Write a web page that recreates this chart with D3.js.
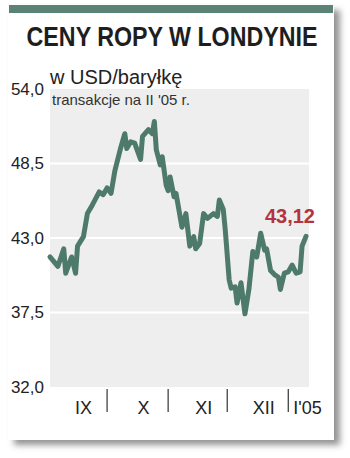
<!DOCTYPE html>
<html>
<head>
<meta charset="utf-8">
<script src="https://cdn.jsdelivr.net/npm/d3@7"></script>
<style>
  body { margin: 0; background: #fff; }
  text { font-family: "Liberation Sans", Arial, Helvetica, sans-serif; }
</style>
</head>
<body>
<div id="chart"></div>
<script>
// ceny ropy Brent, kontrakty na II '05
var dates = ["2004-09-02", "2004-09-06", "2004-09-09", "2004-09-10", "2004-09-13", "2004-09-15",
  "2004-09-16", "2004-09-19", "2004-09-21", "2004-09-23", "2004-09-27", "2004-09-29",
  "2004-10-01", "2004-10-03", "2004-10-05", "2004-10-08", "2004-10-10", "2004-10-11",
  "2004-10-13", "2004-10-15", "2004-10-18", "2004-10-19", "2004-10-22", "2004-10-24",
  "2004-10-25", "2004-10-26", "2004-10-28", "2004-10-29", "2004-10-31", "2004-11-01",
  "2004-11-02", "2004-11-04", "2004-11-05", "2004-11-08", "2004-11-10", "2004-11-12",
  "2004-11-14", "2004-11-15", "2004-11-17", "2004-11-19", "2004-11-21", "2004-11-24",
  "2004-11-26", "2004-11-27", "2004-11-29", "2004-11-30", "2004-12-02", "2004-12-03",
  "2004-12-05", "2004-12-06", "2004-12-08", "2004-12-10", "2004-12-12", "2004-12-14",
  "2004-12-16", "2004-12-18", "2004-12-20", "2004-12-21", "2004-12-23", "2004-12-25",
  "2004-12-27", "2004-12-28", "2004-12-30", "2005-01-01", "2005-01-03", "2005-01-05",
  "2005-01-07", "2005-01-08", "2005-01-10"];
var prices = [41.6, 40.9, 42.2, 40.4, 41.6, 40.4,
  42.4, 43.1, 44.8, 45.3, 46.4, 46.2,
  46.7, 46.3, 48.0, 49.7, 50.7, 49.6,
  50.1, 50.0, 48.8, 50.5, 51.0, 50.7,
  51.6, 49.5, 48.4, 49.0, 46.9, 46.5,
  47.5, 46.05, 46.3, 43.8, 44.8, 42.4,
  43.1, 42.2, 42.6, 44.8, 44.45, 44.8,
  44.6, 45.8, 45.1, 43.6, 39.9, 39.3,
  39.4, 38.2, 39.7, 37.4, 39.2, 42.0,
  41.6, 43.35, 42.1, 42.2, 40.6, 40.3,
  40.1, 39.2, 40.4, 40.5, 41.0, 40.4,
  40.5, 42.4, 43.12];

var yTicks = [32.0, 37.5, 43.0, 48.5, 54.0];
var months = ["2004-09-01", "2004-10-01", "2004-11-01", "2004-12-01", "2005-01-01"];
var monthLabels = ["IX", "X", "XI", "XII", "I'05"];
var lastLabel = "43,12";

var width = 350, height = 458;
var parse = d3.timeParse("%Y-%m-%d");
var fmt = d3.format(".1f");

var data = dates.map(function (d, i) { return { date: parse(d), value: prices[i] }; });

var x = d3.scaleTime()
  .domain([parse("2004-09-01"), parse("2005-01-10")])
  .range([48, 306]);

var y = d3.scaleLinear()
  .domain([32, 54])
  .range([387, 89]);

var svg = d3.select("#chart")
  .append("svg")
  .attr("width", width)
  .attr("height", height);

// cien karty
var defs = svg.append("defs");
var f = defs.append("filter").attr("id", "shadow")
  .attr("x", "-5%").attr("y", "-5%").attr("width", "115%").attr("height", "115%");
f.append("feDropShadow")
  .attr("dx", 6).attr("dy", 5)
  .attr("stdDeviation", 3)
  .attr("flood-color", "#666")
  .attr("flood-opacity", 0.7);

svg.append("rect")
  .attr("x", 8).attr("y", 5)
  .attr("width", 326).attr("height", 435)
  .attr("fill", "#fff")
  .attr("filter", "url(#shadow)");

svg.append("rect")
  .attr("x", 9).attr("y", 5)
  .attr("width", 324).attr("height", 8)
  .attr("fill", "#5a8275");

// tytul - brak kroju waskiego, wiec zwezamy skala
svg.append("text")
  .attr("transform", "translate(172,46) scale(0.83,1)")
  .attr("text-anchor", "middle")
  .style("font-weight", "bold")
  .style("font-size", "28px")
  .style("fill", "#1e1e1e")
  .text("CENY ROPY W LONDYNIE");

// tlo wykresu
svg.append("rect")
  .attr("x", x.range()[0] + 2)
  .attr("y", y(54))
  .attr("width", x.range()[1] - x.range()[0] + 1)
  .attr("height", y(32) - y(54))
  .attr("fill", "#edeeed");

svg.append("text")
  .attr("x", 50).attr("y", 84)
  .style("font-size", "20px")
  .style("fill", "#222")
  .text("w USD/baryłkę");

svg.append("text")
  .attr("x", 52).attr("y", 105)
  .style("font-size", "15px")
  .style("fill", "#333")
  .text("transakcje na II '05 r.");

// linie siatki
svg.selectAll(".grid")
  .data(yTicks.filter(function (d) { return d > 32 && d < 54; }))
  .enter()
  .append("line")
  .attr("class", "grid")
  .attr("x1", x.range()[0] + 2)
  .attr("x2", x.range()[1] + 3)
  .attr("y1", function (d) { return y(d); })
  .attr("y2", function (d) { return y(d); })
  .attr("stroke", "#fff")
  .attr("stroke-width", 2);

svg.selectAll(".ylab")
  .data(yTicks)
  .enter()
  .append("text")
  .attr("class", "ylab")
  .attr("x", 44)
  .attr("y", function (d) { return y(d); })
  .attr("dy", "0.35em")
  .attr("text-anchor", "end")
  .style("font-size", "17px")
  .style("fill", "#222")
  .text(function (d) { return fmt(d).replace(".", ","); });

// os miesiecy
var mDates = months.map(parse);
svg.selectAll(".mtick")
  .data(mDates.slice(1))
  .enter()
  .append("line")
  .attr("class", "mtick")
  .attr("x1", function (d) { return x(d); })
  .attr("x2", function (d) { return x(d); })
  .attr("y1", 389).attr("y2", 412)
  .attr("stroke", "#333")
  .attr("stroke-width", 1.2);

svg.selectAll(".mlab")
  .data(monthLabels)
  .enter()
  .append("text")
  .attr("class", "mlab")
  .attr("x", function (d, i) {
    if (i == mDates.length - 1) return x(mDates[i]) + 5;
    return (x(mDates[i]) + x(mDates[i + 1])) / 2 + 6;
  })
  .attr("y", 414)
  .attr("text-anchor", function (d, i) { return i == mDates.length - 1 ? "start" : "middle"; })
  .style("font-size", "18px")
  .style("fill", "#222")
  .text(function (d) { return d; });

// linia cen
var line = d3.line()
  .x(function (d) { return x(d.date); })
  .y(function (d) { return y(d.value); });

svg.append("path")
  .datum(data)
  .attr("d", line)
  .attr("fill", "none")
  .attr("stroke", "#4e7a6b")
  .attr("stroke-width", 5)
  .attr("stroke-linejoin", "round")
  .attr("stroke-linecap", "round");

var last = data[data.length - 1];
svg.append("text")
  .attr("x", x(last.date) + 9)
  .attr("y", y(last.value) - 13)
  .attr("text-anchor", "end")
  .style("font-size", "20px")
  .style("font-weight", "bold")
  .style("fill", "#b3333f")
  .text(lastLabel);
</script>
</body>
</html>
